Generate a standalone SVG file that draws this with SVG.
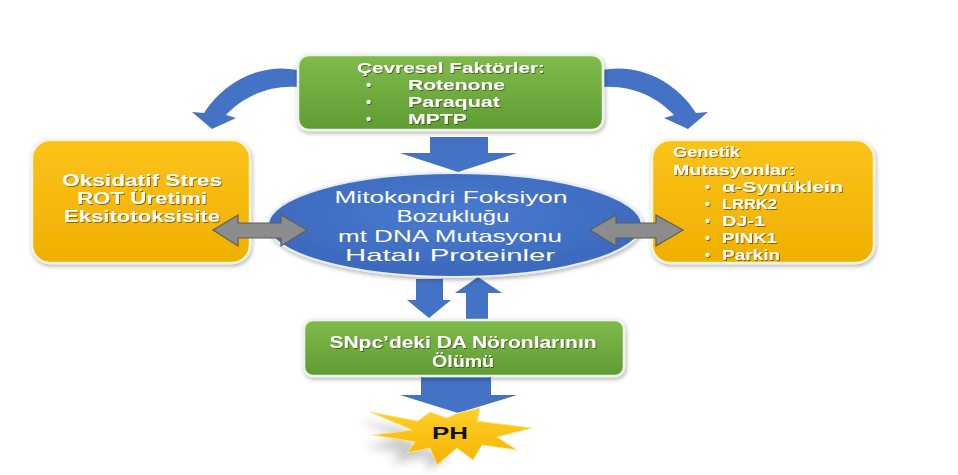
<svg xmlns="http://www.w3.org/2000/svg" width="958" height="475" viewBox="0 0 958 475">
<defs>
<linearGradient id="gGreen" x1="0" y1="0" x2="0" y2="1">
<stop offset="0" stop-color="#80bb4c"/><stop offset="1" stop-color="#5e9c32"/>
</linearGradient>
<linearGradient id="gOrange" x1="0" y1="0" x2="0" y2="1">
<stop offset="0" stop-color="#fbc31a"/><stop offset="1" stop-color="#efaf00"/>
</linearGradient>
<radialGradient id="gBlue" cx="0.5" cy="0.4" r="0.6">
<stop offset="0" stop-color="#4a7bd0"/><stop offset="1" stop-color="#3b68bb"/>
</radialGradient>
<linearGradient id="gStar" x1="0" y1="0" x2="0" y2="1">
<stop offset="0" stop-color="#ffcf2a"/><stop offset="1" stop-color="#f4b400"/>
</linearGradient>
<filter id="sh" x="-10%" y="-10%" width="125%" height="130%">
<feDropShadow dx="1" dy="2" stdDeviation="2" flood-color="#000" flood-opacity="0.3"/>
</filter>
<filter id="ts" x="-5%" y="-20%" width="110%" height="150%">
<feDropShadow dx="1" dy="1" stdDeviation="0.5" flood-color="#3a2a00" flood-opacity="0.6"/>
</filter>
<filter id="blur" x="-30%" y="-30%" width="160%" height="160%">
<feGaussianBlur stdDeviation="5"/>
</filter>
<style>
.t{font-family:"Liberation Sans",Arial,sans-serif;font-weight:bold;fill:#fff;}
.tm{font-family:"Liberation Sans",Arial,sans-serif;fill:#fff;}
.blue{fill:#4472c4;}
.gray{fill:#8c8c8c;stroke:#5d5d5d;stroke-width:1.2;}
</style>
</defs>
<rect width="958" height="475" fill="#fff"/>

<g id="connectors">
<path class="blue" d="M298,70 C262,63 225,80 204,113 L192,112 L212,129 L236,118 L226,115 C243,97 268,85 298,87 Z"/>
<path class="blue" d="M602,70 C638,63 675,80 696,113 L708,112 L688,129 L664,118 L674,115 C657,97 632,85 602,87 Z"/>
<path class="blue" d="M430,137 H488 V153 H517 L458,172 L400,153 H430 Z"/>
<path class="blue" d="M416,279 H443 V300 H451 L429,318 L407,300 H416 Z"/>
<path class="blue" d="M466,321 V293 H455 L478,277 L502,293 H488 V321 Z"/>
<path class="blue" d="M421,376 H491 V395 H517 L458,413 L400,395 H421 Z"/>
</g>

<g id="node-env">
<rect x="298" y="55" width="305" height="75" rx="11" fill="url(#gGreen)" stroke="#eef3ea" stroke-width="2.5" filter="url(#sh)"/>
<g class="t" font-size="14.5" filter="url(#ts)">
<text x="357" y="73" textLength="188" lengthAdjust="spacingAndGlyphs">Çevresel Faktörler:</text>
<text x="366" y="90">•</text>
<text x="408" y="90" textLength="97" lengthAdjust="spacingAndGlyphs">Rotenone</text>
<text x="366" y="107">•</text>
<text x="408" y="107" textLength="92" lengthAdjust="spacingAndGlyphs">Paraquat</text>
<text x="366" y="124">•</text>
<text x="408" y="124" textLength="59" lengthAdjust="spacingAndGlyphs">MPTP</text>
</g>
</g>

<g id="node-oxid">
<rect x="32" y="140" width="218" height="123" rx="18" fill="url(#gOrange)" stroke="#fbf3dc" stroke-width="2.5" filter="url(#sh)"/>
<g class="t" font-size="16" text-anchor="middle" filter="url(#ts)">
<text x="142" y="186" textLength="160" lengthAdjust="spacingAndGlyphs">Oksidatif Stres</text>
<text x="142" y="204" textLength="130" lengthAdjust="spacingAndGlyphs">ROT Üretimi</text>
<text x="142" y="222" textLength="156" lengthAdjust="spacingAndGlyphs">Eksitotoksisite</text>
</g>
</g>

<g id="node-genetic">
<rect x="652" y="140" width="222" height="123" rx="18" fill="url(#gOrange)" stroke="#fbf3dc" stroke-width="2.5" filter="url(#sh)"/>
<g class="t" font-size="14" filter="url(#ts)">
<text x="673" y="157" textLength="67" lengthAdjust="spacingAndGlyphs">Genetik</text>
<text x="673" y="175" textLength="122" lengthAdjust="spacingAndGlyphs">Mutasyonlar:</text>
<text x="705" y="192">•</text>
<text x="722" y="192" textLength="121" lengthAdjust="spacingAndGlyphs">α-Synüklein</text>
<text x="705" y="209">•</text>
<text x="722" y="209" textLength="55" lengthAdjust="spacingAndGlyphs">LRRK2</text>
<text x="705" y="226">•</text>
<text x="722" y="226" textLength="43" lengthAdjust="spacingAndGlyphs">DJ-1</text>
<text x="705" y="243">•</text>
<text x="722" y="243" textLength="55" lengthAdjust="spacingAndGlyphs">PINK1</text>
<text x="705" y="260">•</text>
<text x="722" y="260" textLength="58" lengthAdjust="spacingAndGlyphs">Parkin</text>
</g>
</g>

<g id="node-mito">
<ellipse cx="455" cy="225" rx="187" ry="52" fill="url(#gBlue)" stroke="#e6edf8" stroke-width="2" filter="url(#sh)"/>
<g class="tm" font-size="17" text-anchor="middle">
<text x="451" y="203" textLength="233" lengthAdjust="spacingAndGlyphs">Mitokondri Foksiyon</text>
<text x="453" y="222" textLength="113" lengthAdjust="spacingAndGlyphs">Bozukluğu</text>
<text x="450" y="242" textLength="224" lengthAdjust="spacingAndGlyphs">mt DNA Mutasyonu</text>
<text x="450" y="261" textLength="210" lengthAdjust="spacingAndGlyphs">Hatalı Proteinler</text>
</g>
</g>

<g id="gray-arrows">
<path class="gray" d="M213,230 L238,215 V223 H281 V215 L307,230 L281,246 V238 H238 V246 Z"/>
<path class="gray" d="M590,230 L616,215 V223 H656 V215 L683,230 L656,246 V238 H616 V246 Z"/>
</g>

<g id="node-snpc">
<rect x="304" y="320" width="320" height="56" rx="9" fill="url(#gGreen)" stroke="#eef3ea" stroke-width="2.5" filter="url(#sh)"/>
<g class="t" font-size="16" text-anchor="middle" filter="url(#ts)">
<text x="463" y="348" textLength="267" lengthAdjust="spacingAndGlyphs">SNpc’deki DA Nöronlarının</text>
<text x="463" y="367" textLength="62" lengthAdjust="spacingAndGlyphs">Ölümü</text>
</g>
</g>

<g id="node-ph">
<polygon points="358,420 410,430 405,438 364,446 402,452 390,464 428,456 426,470 450,458" fill="#9a9a9a" opacity="0.55" filter="url(#blur)"/>
<polygon points="370,412 418,421 430,412 447,418 458,413 480,408 477,421 532,428 497,437 517,450 482,445 473,460 457,448 437,465 430,448 407,453 415,442 373,435 412,430" fill="url(#gStar)" stroke="#fbe58a" stroke-width="1"/>
<text x="450" y="439" font-family="Liberation Sans,Arial,sans-serif" font-weight="bold" font-size="17" fill="#111" text-anchor="middle" textLength="36" lengthAdjust="spacingAndGlyphs">PH</text>
</g>
</svg>
